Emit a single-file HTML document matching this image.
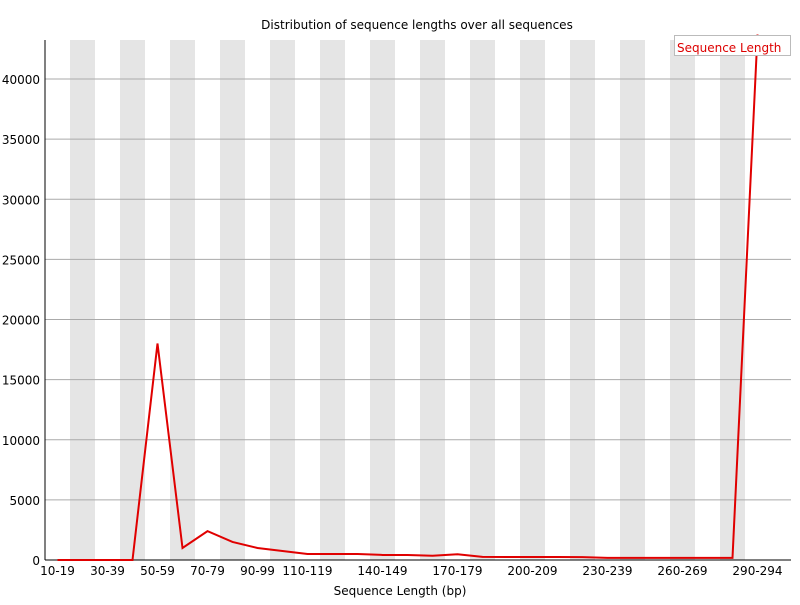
<!DOCTYPE html>
<html><head><meta charset="utf-8"><style>
body{margin:0;background:#fff;}
svg text{font-family:"DejaVu Sans","Liberation Sans",sans-serif;font-size:12px;}
</style></head><body>
<svg id="chart" width="800" height="600" xmlns="http://www.w3.org/2000/svg">
<text x="417" y="29" text-anchor="middle">Distribution of sequence lengths over all sequences</text>
<g id="stripes"></g><g id="grid"></g><g id="yticks"></g><g id="xticks"></g>
<line x1="45" y1="40" x2="45" y2="560" stroke="#000"/>
<line x1="45" y1="560" x2="791" y2="560" stroke="#000"/>
<g id="series"></g>
<g>
<rect x="674.5" y="35.5" width="116" height="20" fill="#fff" stroke="#bbb"/>
<text x="677" y="52" fill="#d00">Sequence Length</text>
</g>
<text x="400" y="595" text-anchor="middle">Sequence Length (bp)</text>
</svg>
<script>
const categories=["10-19","20-29","30-39","40-49","50-59","60-69","70-79","80-89","90-99","100-109","110-119","120-129","130-139","140-149","150-159","160-169","170-179","180-189","190-199","200-209","210-219","220-229","230-239","240-249","250-259","260-269","270-279","280-289","290-294"];
const values=[0,0,0,0,18000,1000,2400,1500,1000,750,500,500,500,420,420,350,480,260,250,250,250,240,180,180,180,180,180,180,43700];
const labelIndices=[0,2,4,6,8,10,13,16,19,22,25,28];
const yTicks=[0,5000,10000,15000,20000,25000,30000,35000,40000];
const NS="http://www.w3.org/2000/svg";
const x0=45,bw=25,yBase=560,pxPer=(560-79)/40000;
const xs=i=>x0+bw*i+bw/2;
const ys=v=>yBase-v*pxPer;
function mk(t,a,p){const e=document.createElementNS(NS,t);for(const k in a)e.setAttribute(k,a[k]);document.getElementById(p).appendChild(e);return e;}
categories.forEach((c,i)=>{if(i%2===1&&i<categories.length){
const r=mk('rect',{x:x0+bw*i,y:40,width:bw,height:520,fill:'#e5e5e5'},'stripes');

}});
yTicks.forEach(v=>{
if(v>0){const l=mk('line',{x1:x0,x2:791,y1:ys(v),y2:ys(v),stroke:'#aaa'},'grid');

}
const t=mk('text',{x:40,y:ys(v)+5,'text-anchor':'end'},'yticks');t.textContent=v;

});
labelIndices.forEach(i=>{const t=mk('text',{x:xs(i),y:575,'text-anchor':'middle'},'xticks');t.textContent=categories[i];

});
const pl=mk('polyline',{points:values.map((v,i)=>xs(i)+','+ys(v)).join(' '),fill:'none',stroke:'#e00000','stroke-width':2},'series');


</script>
</body></html>
